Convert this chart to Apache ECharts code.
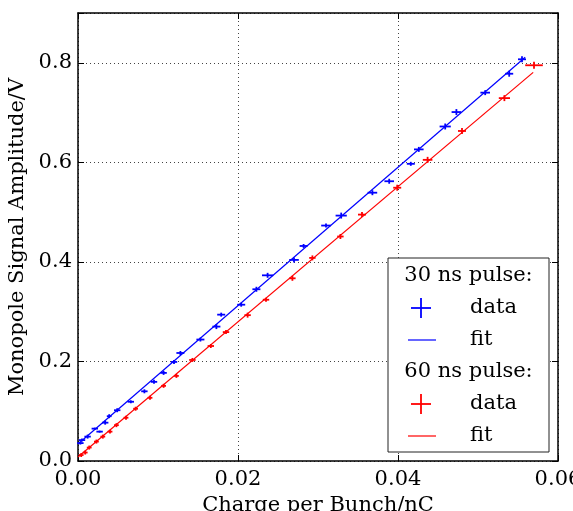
<!DOCTYPE html>
<html>
<head>
<meta charset="utf-8">
<script src="https://cdn.jsdelivr.net/npm/echarts@6/dist/echarts.min.js"></script>
<style>
  html, body { margin: 0; padding: 0; background: #fff; }
  #chart { width: 573px; height: 511px; }
</style>
</head>
<body>
<div id="chart"></div>
<script>
// Monopole signal amplitude versus bunch charge, two pulse lengths.

// 30 ns pulse measurements
const q30 = [0.0003, 0.0005, 0.0012, 0.0021, 0.0027, 0.0034, 0.0039, 0.0049, 0.0066, 0.0083,
             0.0095, 0.0107, 0.0120, 0.0128, 0.0153, 0.0173, 0.0179, 0.0204, 0.0223, 0.0237,
             0.0270, 0.0282, 0.0310, 0.0329, 0.0368, 0.0389, 0.0416, 0.0426, 0.0459, 0.0473,
             0.0509, 0.0539, 0.0555];
const v30 = [0.036, 0.042, 0.049, 0.065, 0.059, 0.077, 0.090, 0.102, 0.119, 0.140,
             0.159, 0.177, 0.199, 0.217, 0.244, 0.270, 0.294, 0.314, 0.345, 0.373,
             0.404, 0.432, 0.473, 0.493, 0.539, 0.562, 0.597, 0.626, 0.672, 0.701,
             0.740, 0.778, 0.807];
const q30Err = [0.0004, 0.0004, 0.0004, 0.0004, 0.0004, 0.0004, 0.0003, 0.0004, 0.0004, 0.0004,
                0.0004, 0.0004, 0.0004, 0.0005, 0.0005, 0.0005, 0.0005, 0.0005, 0.0005, 0.0007,
                0.0006, 0.0005, 0.0006, 0.0007, 0.0006, 0.0006, 0.0005, 0.0006, 0.0007, 0.0006,
                0.0006, 0.0005, 0.0005];
const v30Err = [0.003, 0.003, 0.004, 0.002, 0.002, 0.004, 0.004, 0.004, 0.003, 0.004,
                0.004, 0.004, 0.004, 0.004, 0.004, 0.005, 0.004, 0.004, 0.005, 0.005,
                0.005, 0.004, 0.004, 0.006, 0.005, 0.005, 0.004, 0.005, 0.006, 0.006,
                0.005, 0.006, 0.006];

// 60 ns pulse measurements
const q60 = [0.0004, 0.0009, 0.0014, 0.0023, 0.0031, 0.0040, 0.0048, 0.0060, 0.0072, 0.0090,
             0.0107, 0.0123, 0.0143, 0.0166, 0.0185, 0.0212, 0.0235, 0.0268, 0.0293, 0.0328,
             0.0355, 0.0399, 0.0437, 0.0480, 0.0533, 0.0570];
const v60 = [0.012, 0.017, 0.027, 0.039, 0.049, 0.059, 0.072, 0.087, 0.105, 0.127,
             0.151, 0.171, 0.203, 0.231, 0.259, 0.293, 0.324, 0.367, 0.408, 0.451,
             0.495, 0.549, 0.605, 0.663, 0.729, 0.795];
const q60Err = [0.0003, 0.0003, 0.0003, 0.0003, 0.0003, 0.0003, 0.0003, 0.0003, 0.0003, 0.0003,
                0.0003, 0.0003, 0.0004, 0.0004, 0.0004, 0.0004, 0.0004, 0.0004, 0.0004, 0.0004,
                0.0005, 0.0005, 0.0006, 0.0005, 0.0007, 0.0011];
const v60Err = [0.004, 0.004, 0.004, 0.004, 0.004, 0.004, 0.004, 0.004, 0.004, 0.004,
                0.004, 0.004, 0.004, 0.004, 0.004, 0.005, 0.004, 0.005, 0.005, 0.005,
                0.005, 0.006, 0.006, 0.006, 0.006, 0.007];

// Linear fits: amplitude = slope * charge + offset, over the fitted charge range
const fit30 = { slope: 13.9, offset: 0.034, from: 0.0, to: 0.0559 };
const fit60 = { slope: 13.58, offset: 0.008, from: 0.0, to: 0.0569 };

// Axis ticks
const xTicks = [0.00, 0.02, 0.04, 0.06];
const yTicks = [0.0, 0.2, 0.4, 0.6, 0.8];

const BLUE = '#0000ff';
const RED = '#ff0000';
const FONT = 'DejaVu Serif';

function rows(xs, ys, dxs, dys) {
  return xs.map((x, i) => [x, ys[i], dxs[i], dys[i]]);
}
function fitLine(f) {
  return [[f.from, f.slope * f.from + f.offset], [f.to, f.slope * f.to + f.offset]];
}
function errorCross(color) {
  return function (params, api) {
    const x = api.value(0), y = api.value(1), dx = api.value(2), dy = api.value(3);
    const l = api.coord([x - dx, y]), r = api.coord([x + dx, y]);
    const b = api.coord([x, y - dy]), t = api.coord([x, y + dy]);
    const st = { stroke: color, lineWidth: 1.8 };
    return {
      type: 'group',
      children: [
        { type: 'line', shape: { x1: l[0], y1: l[1], x2: r[0], y2: r[1] }, style: st },
        { type: 'line', shape: { x1: b[0], y1: b[1], x2: t[0], y2: t[1] }, style: st }
      ]
    };
  };
}

const chart = echarts.init(document.getElementById('chart'), null, { renderer: 'canvas' });

const axisLineStyle = { color: '#000', width: 1.5 };
const tickStyle = { show: true, inside: true, length: 6, lineStyle: { color: '#000', width: 1 } };
const gridLine = { show: true, lineStyle: { color: '#444', width: 1, type: [1, 3] } };
const labelFont = { fontFamily: FONT, fontSize: 21, color: '#000' };

function inList(list, v) {
  return list.some(t => Math.abs(t - v) < 1e-9);
}

// Legend block drawn with shapes and text
const LX = 388, LY = 258, LW = 161, LH = 194;
const rowY = [276, 308, 340, 372, 404, 436];
const legendTitles = ['30 ns pulse:', '60 ns pulse:'];
const legendItems = ['data', 'fit'];
function legendGraphics() {
  const g = [{
    type: 'rect', shape: { x: LX, y: LY, width: LW, height: LH },
    style: { fill: '#fff', stroke: '#222', lineWidth: 1 }, z: 100
  }];
  [[BLUE, 0], [RED, 3]].forEach(([color, r0], k) => {
    g.push({ type: 'text', x: LX + LW / 2, y: rowY[r0], z: 101,
      style: { text: legendTitles[k], font: '21px "' + FONT + '"', fill: '#000', align: 'center', verticalAlign: 'middle' } });
    // data: error cross
    g.push({ type: 'line', z: 101, shape: { x1: 411, y1: rowY[r0 + 1], x2: 431, y2: rowY[r0 + 1] }, style: { stroke: color, lineWidth: 1.8 } });
    g.push({ type: 'line', z: 101, shape: { x1: 421, y1: rowY[r0 + 1] - 10, x2: 421, y2: rowY[r0 + 1] + 10 }, style: { stroke: color, lineWidth: 1.8 } });
    g.push({ type: 'text', x: 470, y: rowY[r0 + 1], z: 101,
      style: { text: legendItems[0], font: '21px "' + FONT + '"', fill: '#000', align: 'left', verticalAlign: 'middle' } });
    // fit: line
    g.push({ type: 'line', z: 101, shape: { x1: 408, y1: rowY[r0 + 2], x2: 436, y2: rowY[r0 + 2] }, style: { stroke: color, lineWidth: 1.2 } });
    g.push({ type: 'text', x: 470, y: rowY[r0 + 2], z: 101,
      style: { text: legendItems[1], font: '21px "' + FONT + '"', fill: '#000', align: 'left', verticalAlign: 'middle' } });
  });
  return g;
}

chart.setOption({
  animation: false,
  backgroundColor: '#fff',
  grid: { left: 78, right: 15, top: 13, bottom: 50, containLabel: false, outerBoundsMode: 'none' },
  xAxis: [{
    type: 'value', min: 0, max: 0.06, interval: 0.02, position: 'bottom',
    name: 'Charge per Bunch/nC', nameLocation: 'middle', nameGap: 23,
    nameTextStyle: { fontFamily: FONT, fontSize: 21, color: '#000' },
    axisLine: { show: true, onZero: false, lineStyle: axisLineStyle },
    axisTick: tickStyle,
    axisLabel: Object.assign({ margin: 8, showMaxLabel: true, hideOverlap: false,
      formatter: v => inList(xTicks, v) ? v.toFixed(2) : '' }, labelFont),
    splitLine: gridLine
  }, {
    type: 'value', min: 0, max: 0.06, interval: 0.02, position: 'top',
    axisLine: { show: true, onZero: false, lineStyle: axisLineStyle },
    axisTick: tickStyle, axisLabel: { show: false }, splitLine: { show: false }
  }],
  yAxis: [{
    type: 'value', min: 0, max: 0.9, interval: 0.2, position: 'left',
    name: 'Monopole Signal Amplitude/V', nameLocation: 'middle', nameGap: 43,
    nameTextStyle: { fontFamily: FONT, fontSize: 21, color: '#000' },
    axisLine: { show: true, onZero: false, lineStyle: axisLineStyle },
    axisTick: tickStyle,
    axisLabel: Object.assign({ margin: 6, hideOverlap: false,
      formatter: v => inList(yTicks, v) ? v.toFixed(1) : '' }, labelFont),
    splitLine: gridLine
  }, {
    type: 'value', min: 0, max: 0.9, interval: 0.2, position: 'right',
    axisLine: { show: true, onZero: false, lineStyle: axisLineStyle },
    axisTick: tickStyle, axisLabel: { show: false }, splitLine: { show: false }
  }],
  series: [
    { name: '30 ns fit', type: 'line', data: fitLine(fit30), showSymbol: false, symbol: 'none',
      lineStyle: { color: BLUE, width: 1.2 }, z: 3 },
    { name: '60 ns fit', type: 'line', data: fitLine(fit60), showSymbol: false, symbol: 'none',
      lineStyle: { color: RED, width: 1.2 }, z: 3 },
    { name: '30 ns data', type: 'custom', renderItem: errorCross(BLUE),
      data: rows(q30, v30, q30Err, v30Err), encode: { x: 0, y: 1 }, z: 4 },
    { name: '60 ns data', type: 'custom', renderItem: errorCross(RED),
      data: rows(q60, v60, q60Err, v60Err), encode: { x: 0, y: 1 }, z: 4 }
  ],
  graphic: legendGraphics()
});
</script>
</body>
</html>
